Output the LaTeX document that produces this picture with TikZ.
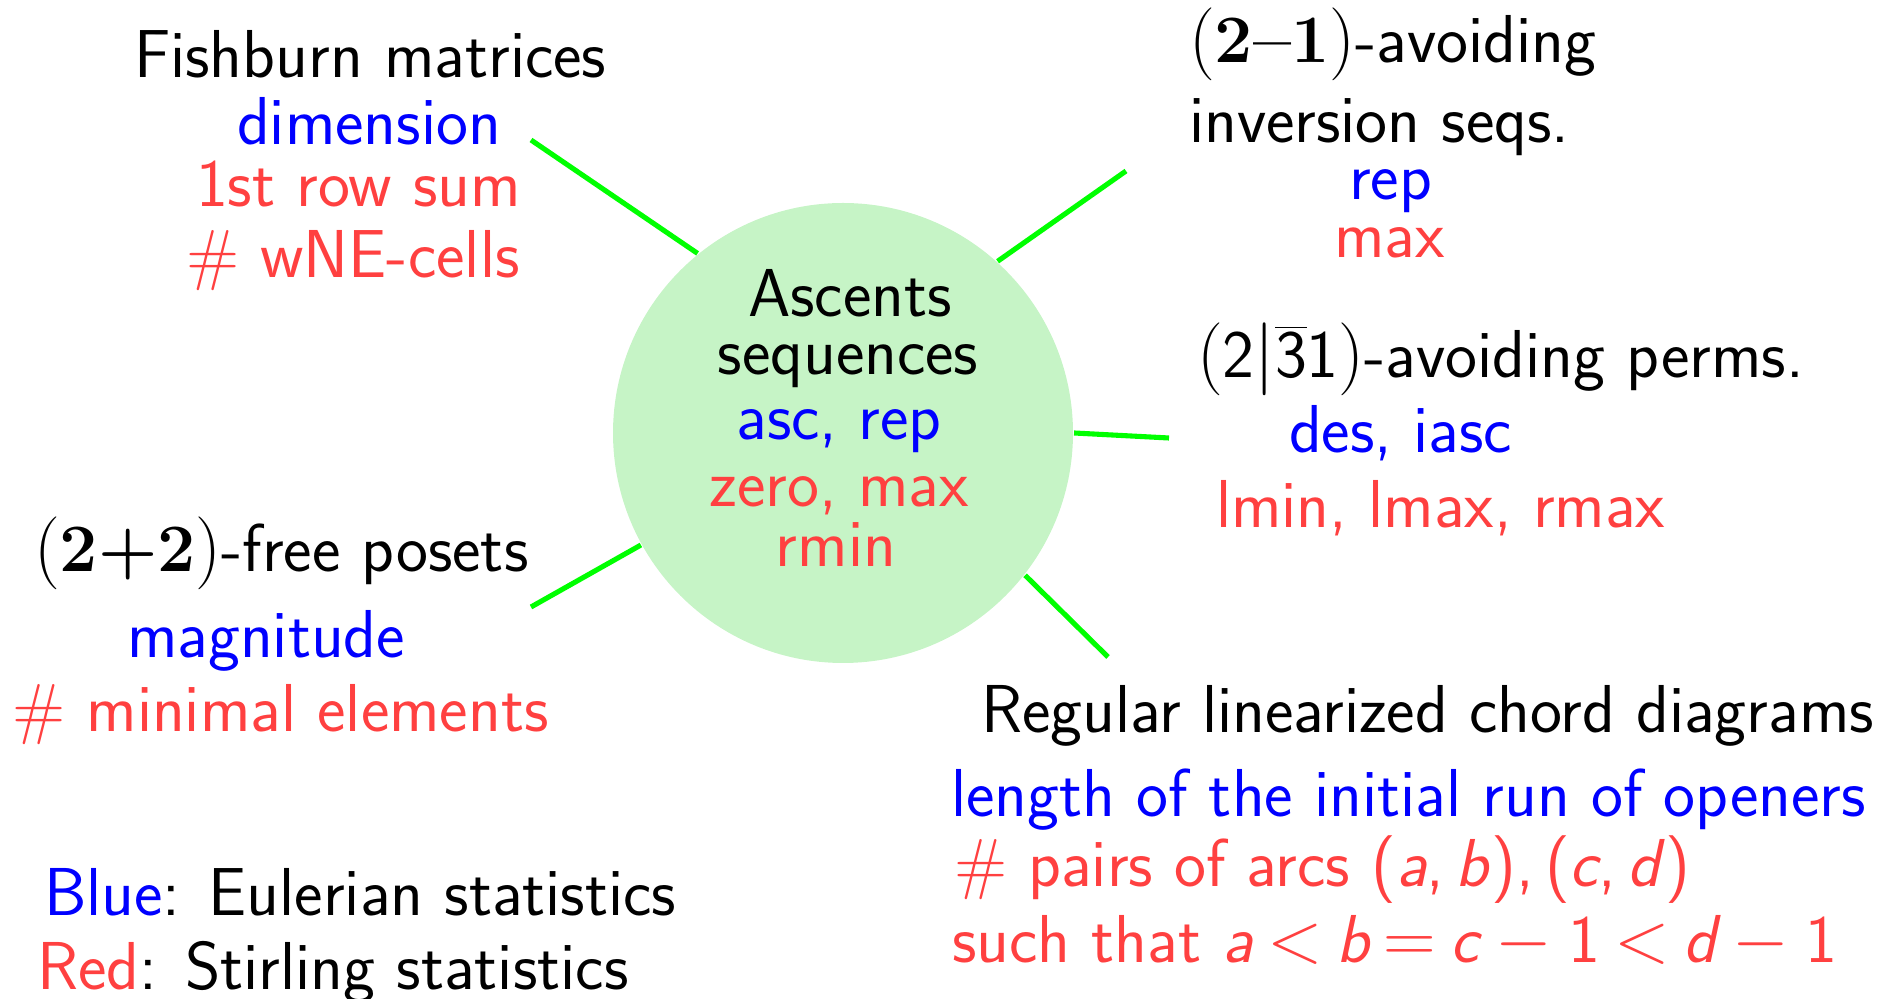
\documentclass[tikz,border=0pt]{standalone}
\usepackage{tikz}
\definecolor{eulblue}{rgb}{0,0,1}
\definecolor{stired}{rgb}{1,0.25,0.25}
\definecolor{linkgreen}{rgb}{0,1,0}
\definecolor{discfill}{RGB}{198,244,198}
\begin{document}
\begin{tikzpicture}[line width=0.6pt,
  lbl/.style={font=\fontsize{19.3}{21}\selectfont\sffamily, inner sep=0pt, anchor=base west},
  clbl/.style={lbl, anchor=base},
  link/.style={draw=linkgreen, line width=1.45pt}]
  \useasboundingbox (0,0) rectangle (18.79,9.99);
  % centre disc
  \node[circle, fill=discfill, minimum size=4.6cm, inner sep=0pt] (asc) at (8.43,5.66) {};
  \node[clbl] (ascA) at (8.50,6.82) {Ascents};
  \node[clbl] (ascB) at (8.48,6.24) {sequences};
  \node[clbl, text=eulblue] (ascC) at (8.39,5.59) {asc, rep};
  \node[clbl, text=stired] (ascD) at (8.39,4.92) {zero, max};
  \node[clbl, text=stired] (ascE) at (8.36,4.32) {rmin};
  % Fishburn matrices
  \node[lbl] (fishA) at (1.33,9.21) {Fishburn matrices};
  \node[lbl, text=eulblue] (fishB) at (2.36,8.54) {dimension};
  \node[lbl, text=stired] (fishC) at (1.95,7.92) {1st row sum};
  \node[lbl, text=stired] (fishD) at (1.85,7.21) {\# wNE-cells};
  % inversion sequences
  \node[lbl] (invA) at (11.88,9.36) {$(\mbox{\rmfamily\bfseries 2--1})$-avoiding};
  \node[lbl] (invB) at (11.88,8.56) {inversion seqs.};
  \node[lbl, text=eulblue] (invC) at (13.48,7.99) {rep};
  \node[lbl, text=stired] (invD) at (13.33,7.41) {max};
  % permutations
  \node[lbl] (permA) at (11.96,6.21) {$(\mbox{2}|\overline{\mbox{3}}\mbox{1})$-avoiding perms.};
  \node[lbl, text=eulblue] (permB) at (12.88,5.46) {des, iasc};
  \node[lbl, text=stired] (permC) at (12.15,4.71) {lmin, lmax, rmax};
  % posets
  \node[lbl] (posA) at (0.33,4.27) {$(\mbox{\rmfamily\bfseries 2+2})$-free posets};
  \node[lbl, text=eulblue] (posB) at (1.26,3.41) {magnitude};
  \node[lbl, text=stired] (posC) at (0.11,2.67) {\# minimal elements};
  % chord diagrams
  \node[lbl] (chdA) at (9.80,2.66) {Regular linearized chord diagrams};
  \node[lbl, text=eulblue] (chdB) at (9.50,1.82) {length of the initial run of openers};
  \node[lbl, text=stired] (chdC) at (9.53,1.12) {\# pairs of arcs (\textit{a},\,\textit{b}),\,(\textit{c},\,\textit{d})};
  \node[lbl, text=stired] (chdD) at (9.51,0.36) {\thickmuskip=3.5mu such that $\textit{a}<\textit{b}=\textit{c}-\mbox{1}<\textit{d}-\mbox{1}$};
  % legend
  \node[lbl] (legA) at (0.43,0.83) {\textcolor{eulblue}{Blue}: Eulerian statistics};
  \node[lbl] (legB) at (0.36,0.09) {\textcolor{stired}{Red}: Stirling statistics};
  % spokes
  \coordinate (fishEnd) at (5.31,8.59);
  \coordinate (invEnd) at (11.26,8.28);
  \coordinate (permEnd) at (11.69,5.61);
  \coordinate (posEnd) at (5.31,3.92);
  \coordinate (chdEnd) at (11.08,3.42);
  \draw[link] (asc.129) -- (fishEnd);
  \draw[link] (asc.48) -- (invEnd);
  \draw[link] (asc.0) -- (permEnd);
  \draw[link] (asc.209) -- (posEnd);
  \draw[link] (asc.-38) -- (chdEnd);
\end{tikzpicture}
\end{document}
